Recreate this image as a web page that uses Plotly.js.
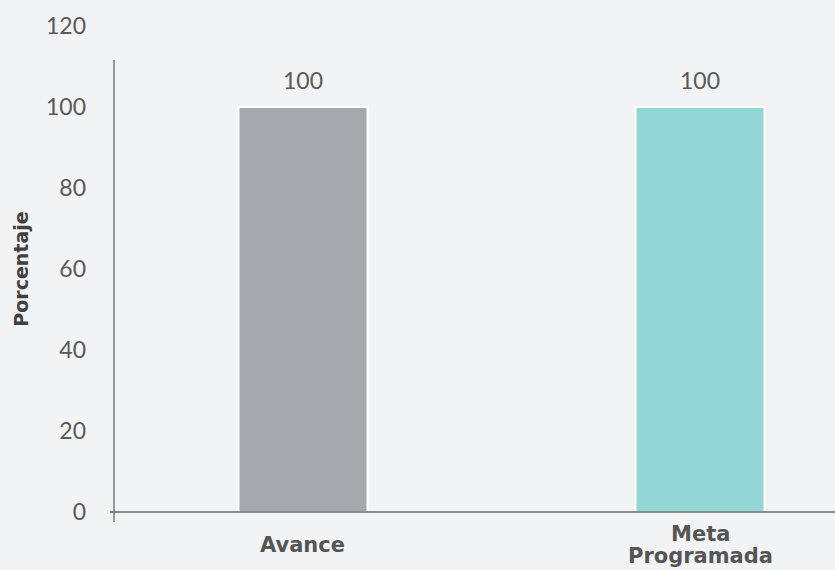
<!DOCTYPE html>
<html>
<head>
<meta charset="utf-8">
<script src="https://cdn.plot.ly/plotly-3.0.1.min.js"></script>
<style>html,body{margin:0;padding:0;background:#F2F3F5;}</style>
</head>
<body>
<div id="chart" style="width:835px;height:570px;"></div>
<script>
const categories = ['Avance', 'Meta<br>Programada'];
const values = [100, 100];
const barColors = ['#A7A8AC', '#93D6D6'];
const valueLabels = ['100', '100'];
const yTicks = [0, 20, 40, 60, 80, 100, 120];

const plotTop = 26, plotBottom = 512, plotH = plotBottom - plotTop;
const toPaperY = px => (plotBottom - px) / plotH;

const trace = {
  type: 'bar',
  x: categories,
  y: values,
  width: 0.325,
  marker: {color: barColors, line: {color: '#FFFFFF', width: 2}},
  hoverinfo: 'none'
};

const annotations = [];
categories.forEach((c, i) => {
  annotations.push({
    x: c, y: values[i], xref: 'x', yref: 'y',
    text: valueLabels[i], showarrow: false,
    yanchor: 'bottom', yshift: 11,
    font: {family: 'Lato, "Noto Sans", sans-serif', size: 23, color: '#595959'}
  });
  const lines = c.split('<br>');
  const center = 545, spacing = 22;
  lines.forEach((ln, j) => {
    const py = center + (j - (lines.length - 1) / 2) * spacing;
    annotations.push({
      x: c, xref: 'x', yref: 'paper', y: toPaperY(py),
      text: '<b>' + ln + '</b>', showarrow: false,
      yanchor: 'middle',
      font: {family: '"DejaVu Sans", sans-serif', size: 21, color: '#555555'}
    });
  });
});

const layout = {
  width: 835, height: 570,
  margin: {l: 114, r: 0, t: plotTop, b: 570 - plotBottom},
  paper_bgcolor: '#F2F3F5',
  plot_bgcolor: '#F2F3F5',
  showlegend: false,
  xaxis: {
    type: 'category',
    range: [-0.476, 1.34],
    showline: false, showgrid: false, zeroline: false,
    ticks: '', showticklabels: false
  },
  yaxis: {
    range: [0, 120],
    tickvals: yTicks,
    showline: false, showgrid: false, zeroline: false,
    ticks: '',
    ticklabelstandoff: 27,
    tickfont: {family: 'Lato, "Noto Sans", sans-serif', size: 23, color: '#595959'},
    title: {text: '<b>Porcentaje</b>', font: {family: '"DejaVu Sans", sans-serif', size: 19, color: '#404040'}, standoff: 12}
  },
  annotations: annotations,
  shapes: [
    {type: 'line', xref: 'paper', yref: 'paper', x0: 0, x1: 0, y0: -0.0206, y1: 0.930, line: {color: '#666666', width: 1.3}},
    {type: 'line', xref: 'paper', yref: 'paper', x0: -0.0055, x1: 1, y0: 0, y1: 0, line: {color: '#666666', width: 1.3}}
  ]
};

Plotly.newPlot('chart', [trace], layout, {displayModeBar: false, staticPlot: true});
</script>
</body>
</html>
